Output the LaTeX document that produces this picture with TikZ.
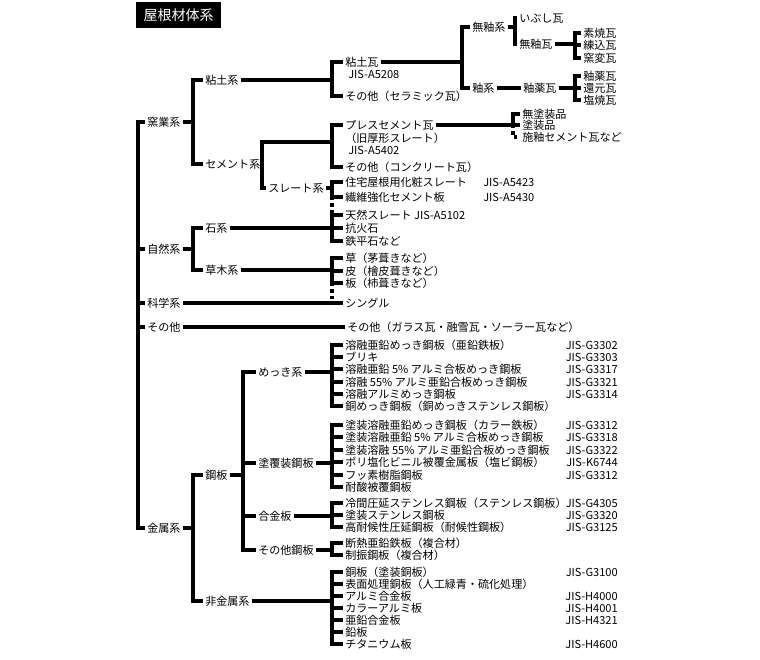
\documentclass[tikz,border=0pt]{standalone}
\usepackage{fontspec}
\setmainfont{Noto Sans CJK JP}
\usepackage{tikz}

\begin{document}
\begin{tikzpicture}[
  x=0.75pt, y=-0.75pt,
  every node/.style={
    font=\fontsize{8.3pt}{9pt}\selectfont,
    inner sep=1.5pt,
    text height=7.3pt,
    text depth=1pt
  },
  lbl/.style={anchor=west},
  jis/.style={anchor=east},
  heading/.style={fill=black, text=white, font=\fontsize{10.5pt}{12pt}\selectfont,
    minimum width=64pt, minimum height=19.5pt, inner sep=0pt, text height=9.2pt, text depth=1.3pt},
  br/.style={line width=2.6pt},
  dotbr/.style={line width=2.6pt, dash pattern=on 2.4pt off 2.4pt}
]
\useasboundingbox (0,0) rectangle (760,660);

% Title
\node[heading] (title) at (178.5,15.5) {屋根材体系};

% Spines of the brackets
\coordinate (sp0) at (138,0);
\coordinate (sp1) at (193,0);
\coordinate (sp2) at (243,0);
\coordinate (spc) at (262,0);
\coordinate (sp3) at (332,0);
\coordinate (spa) at (462,0);
\coordinate (spe) at (513,0);
\coordinate (spb) at (515,0);
\coordinate (spd) at (575,0);
\coordinate (cemj) at (332,142);

% Level 1
\node[lbl] (yogyo) at (145,122) {窯業系};
\node[lbl] (shizen) at (145,249) {自然系};
\node[lbl] (kagaku) at (145,303) {科学系};
\node[lbl] (sonota) at (145,327) {その他};
\node[lbl] (kinzoku) at (145,528) {金属系};

% Level 2
\node[lbl] (nendo) at (203,80) {粘土系};
\node[lbl] (cement) at (203,164) {セメント系};
\node[lbl] (slate) at (266,188) {スレート系};
\node[lbl] (ishi) at (203,228) {石系};
\node[lbl] (soumoku) at (203,270) {草木系};
\node[lbl] (kouhan) at (203,475) {鋼板};
\node[lbl] (hikinzoku) at (203,601) {非金属系};

% Level 3 for steel sheets
\node[lbl] (mekki) at (256,372) {めっき系};
\node[lbl] (tofuku) at (256,463) {塗覆装鋼板};
\node[lbl] (goukin) at (256,516) {合金板};
\node[lbl] (sonotakou) at (256,550) {その他鋼板};

% Clay tiles
\node[lbl] (nendogawara) at (343,62) {粘土瓦};
\node[lbl] (jisA5208) at (346,74) {JIS-A5208};
\node[lbl] (ceramic) at (343,96) {その他（セラミック瓦）};
\node[lbl] (muyuukei) at (470,27) {無釉系};
\node[lbl] (yuukei) at (470,88) {釉系};
\node[lbl] (ibushi) at (517,18) {いぶし瓦};
\node[lbl] (muyuugawara) at (517,44) {無釉瓦};
\node[lbl] (yuuyaku) at (521,88) {釉薬瓦};
\node[lbl] (suyaki) at (581,33) {素焼瓦};
\node[lbl] (nerikomi) at (581,45) {練込瓦};
\node[lbl] (youhen) at (581,58) {窯変瓦};
\node[lbl] (yuuyaku2) at (581,76) {釉薬瓦};
\node[lbl] (kangen) at (581,88) {還元瓦};
\node[lbl] (shioyaki) at (581,100) {塩焼瓦};

% Cement tiles
\node[lbl] (press) at (343,125) {プレスセメント瓦};
\node[lbl] (kyuatsu) at (343,138) {（旧厚形スレート）};
\node[lbl] (jisA5402) at (346,150) {JIS-A5402};
\node[lbl] (concrete) at (343,167) {その他（コンクリート瓦）};
\node[lbl] (mutosou) at (520,114) {無塗装品};
\node[lbl] (tosou) at (520,125) {塗装品};
\node[lbl] (seyuu) at (520,137) {施釉セメント瓦など};
\node[lbl] (jutaku) at (343,182) {住宅屋根用化粧スレート};
\node[lbl] (jisA5423) at (481,182) {JIS-A5423};
\node[lbl] (seni) at (343,197) {繊維強化セメント板};
\node[lbl] (jisA5430) at (481,197) {JIS-A5430};

% Natural materials
\node[lbl] (tennen) at (343,215) {天然スレート JIS-A5102};
\node[lbl] (kouka) at (343,228) {抗火石};
\node[lbl] (teppei) at (343,241) {鉄平石など};
\node[lbl] (kaya) at (343,258) {草（茅葺きなど）};
\node[lbl] (hiwada) at (343,271) {皮（檜皮葺きなど）};
\node[lbl] (kokera) at (343,283) {板（杮葺きなど）};
\node[lbl] (shingle) at (343,303) {シングル};
\node[lbl] (etc) at (345,327) {その他（ガラス瓦・融雪瓦・ソーラー瓦など）};

% Plated steel
\node[lbl] (m1) at (343,345) {溶融亜鉛めっき鋼板（亜鉛鉄板）};
\node[lbl] (m2) at (343,357) {ブリキ};
\node[lbl] (m3) at (343,369) {溶融亜鉛 5\% アルミ合板めっき鋼板};
\node[lbl] (m4) at (343,382) {溶融 55\% アルミ亜鉛合板めっき鋼板};
\node[lbl] (m5) at (343,394) {溶融アルミめっき鋼板};
\node[lbl] (m6) at (343,406) {銅めっき鋼板（銅めっきステンレス鋼板）};
\node[jis] (jm1) at (620,345) {JIS-G3302};
\node[jis] (jm2) at (620,357) {JIS-G3303};
\node[jis] (jm3) at (620,369) {JIS-G3317};
\node[jis] (jm4) at (620,382) {JIS-G3321};
\node[jis] (jm5) at (620,394) {JIS-G3314};

% Coated steel
\node[lbl] (t1) at (343,425) {塗装溶融亜鉛めっき鋼板（カラー鉄板）};
\node[lbl] (t2) at (343,437) {塗装溶融亜鉛 5\% アルミ合板めっき鋼板};
\node[lbl] (t3) at (343,450) {塗装溶融 55\% アルミ亜鉛合板めっき鋼板};
\node[lbl] (t4) at (343,462) {ポリ塩化ビニル被覆金属板（塩ビ鋼板）};
\node[lbl] (t5) at (343,475) {フッ素樹脂鋼板};
\node[lbl] (t6) at (343,487) {耐酸被覆鋼板};
\node[jis] (jt1) at (620,425) {JIS-G3312};
\node[jis] (jt2) at (620,437) {JIS-G3318};
\node[jis] (jt3) at (620,450) {JIS-G3322};
\node[jis] (jt4) at (620,462) {JIS-K6744};
\node[jis] (jt5) at (620,475) {JIS-G3312};

% Alloy and other steel
\node[lbl] (g1) at (343,503) {冷間圧延ステンレス鋼板（ステンレス鋼板）};
\node[lbl] (g2) at (343,515) {塗装ステンレス鋼板};
\node[lbl] (g3) at (343,527) {高耐候性圧延鋼板（耐候性鋼板）};
\node[jis] (jg1) at (620,503) {JIS-G4305};
\node[jis] (jg2) at (620,515) {JIS-G3320};
\node[jis] (jg3) at (620,527) {JIS-G3125};
\node[lbl] (o1) at (343,543) {断熱亜鉛鉄板（複合材）};
\node[lbl] (o2) at (343,555) {制振鋼板（複合材）};

% Non-ferrous metals
\node[lbl] (n1) at (343,572) {銅板（塗装銅板）};
\node[lbl] (n2) at (343,584) {表面処理銅板（人工緑青・硫化処理）};
\node[lbl] (n3) at (343,596) {アルミ合金板};
\node[lbl] (n4) at (343,608) {カラーアルミ板};
\node[lbl] (n5) at (343,620) {亜鉛合金板};
\node[lbl] (n6) at (343,632) {鉛板};
\node[lbl] (n7) at (343,644) {チタニウム板};
\node[jis] (jn1) at (620,572) {JIS-G3100};
\node[jis] (jn3) at (620,596) {JIS-H4000};
\node[jis] (jn4) at (620,608) {JIS-H4001};
\node[jis] (jn5) at (620,620) {JIS-H4321};
\node[jis] (jn7) at (620,644) {JIS-H4600};

% Root
\draw[br] (yogyo.west) -| (sp0 |- kinzoku.west) -- (kinzoku.west);
\draw[br] (shizen.west) -- (sp0 |- shizen.west);
\draw[br] (kagaku.west) -- (sp0 |- kagaku.west);
\draw[br] (sonota.west) -- (sp0 |- sonota.west);

% Ceramic branch
\draw[br] (yogyo.east) -| (sp1 |- nendo.west) -- (nendo.west);
\draw[br] (yogyo.east) -| (sp1 |- cement.west) -- (cement.west);
\draw[br] (nendo.east) -| (sp3 |- nendogawara.west) -- (nendogawara.west);
\draw[br] (nendo.east) -| (sp3 |- ceramic.west) -- (ceramic.west);
\draw[br] (nendogawara.east) -| (spa |- muyuukei.west) -- (muyuukei.west);
\draw[br] (nendogawara.east) -| (spa |- yuukei.west) -- (yuukei.west);
\draw[br] (muyuukei.east) -| (spb |- ibushi.west) -- (ibushi.west);
\draw[br] (muyuukei.east) -| (spb |- muyuugawara.west) -- (muyuugawara.west);
\draw[br] (muyuugawara.east) -| (spd |- suyaki.west) -- (suyaki.west);
\draw[br] (muyuugawara.east) -| (spd |- nerikomi.west) -- (nerikomi.west);
\draw[br] (muyuugawara.east) -| (spd |- youhen.west) -- (youhen.west);
\draw[br] (yuukei.east) -- (yuuyaku.west);
\draw[br] (yuuyaku.east) -| (spd |- yuuyaku2.west) -- (yuuyaku2.west);
\draw[br] (yuuyaku.east) -| (spd |- kangen.west) -- (kangen.west);
\draw[br] (yuuyaku.east) -| (spd |- shioyaki.west) -- (shioyaki.west);

% Cement branch
\draw[br] (cement.east) -| (spc |- cemj) -- (cemj);
\draw[br] (cement.east) -| (spc |- slate.west) -- (slate.west);
\draw[br] (cemj) |- (press.west);
\draw[br] (cemj) |- (concrete.west);
\draw[br] (press.east) -| (spe |- mutosou.west) -- (mutosou.west);
\draw[br] (press.east) -- (tosou.west);
\draw[dotbr] (spe |- tosou.west) |- (seyuu.west);
\draw[br] (slate.east) -| (sp3 |- jutaku.west) -- (jutaku.west);
\draw[br] (slate.east) -| (sp3 |- seni.west) -- (seni.west);
\draw[dotbr] (sp3 |- seni.west) -- (sp3 |- tennen.west);

% Natural branch
\draw[br] (shizen.east) -| (sp1 |- ishi.west) -- (ishi.west);
\draw[br] (shizen.east) -| (sp1 |- soumoku.west) -- (soumoku.west);
\draw[br] (ishi.east) -| (sp3 |- tennen.west) -- (tennen.west);
\draw[br] (ishi.east) -| (sp3 |- kouka.west) -- (kouka.west);
\draw[br] (ishi.east) -| (sp3 |- teppei.west) -- (teppei.west);
\draw[br] (soumoku.east) -| (sp3 |- kaya.west) -- (kaya.west);
\draw[br] (soumoku.east) -| (sp3 |- hiwada.west) -- (hiwada.west);
\draw[br] (soumoku.east) -| (sp3 |- kokera.west) -- (kokera.west);
\draw[dotbr] (sp3 |- kokera.west) -- (sp3 |- shingle.west);
\draw[br] (kagaku.east) -- (shingle.west);
\draw[br] (sonota.east) -- (etc.west);

% Metal branch
\draw[br] (kinzoku.east) -| (sp1 |- kouhan.west) -- (kouhan.west);
\draw[br] (kinzoku.east) -| (sp1 |- hikinzoku.west) -- (hikinzoku.west);
\draw[br] (kouhan.east) -| (sp2 |- mekki.west) -- (mekki.west);
\draw[br] (kouhan.east) -| (sp2 |- tofuku.west) -- (tofuku.west);
\draw[br] (kouhan.east) -| (sp2 |- goukin.west) -- (goukin.west);
\draw[br] (kouhan.east) -| (sp2 |- sonotakou.west) -- (sonotakou.west);

\draw[br] (mekki.east) -| (sp3 |- m1.west) -- (m1.west);
\draw[br] (mekki.east) -| (sp3 |- m2.west) -- (m2.west);
\draw[br] (mekki.east) -| (sp3 |- m3.west) -- (m3.west);
\draw[br] (mekki.east) -| (sp3 |- m4.west) -- (m4.west);
\draw[br] (mekki.east) -| (sp3 |- m5.west) -- (m5.west);
\draw[br] (mekki.east) -| (sp3 |- m6.west) -- (m6.west);

\draw[br] (tofuku.east) -| (sp3 |- t1.west) -- (t1.west);
\draw[br] (tofuku.east) -| (sp3 |- t2.west) -- (t2.west);
\draw[br] (tofuku.east) -| (sp3 |- t3.west) -- (t3.west);
\draw[br] (tofuku.east) -| (sp3 |- t4.west) -- (t4.west);
\draw[br] (tofuku.east) -| (sp3 |- t5.west) -- (t5.west);
\draw[br] (tofuku.east) -| (sp3 |- t6.west) -- (t6.west);

\draw[br] (goukin.east) -| (sp3 |- g1.west) -- (g1.west);
\draw[br] (goukin.east) -| (sp3 |- g2.west) -- (g2.west);
\draw[br] (goukin.east) -| (sp3 |- g3.west) -- (g3.west);
\draw[br] (sonotakou.east) -| (sp3 |- o1.west) -- (o1.west);
\draw[br] (sonotakou.east) -| (sp3 |- o2.west) -- (o2.west);

\draw[br] (hikinzoku.east) -| (sp3 |- n1.west) -- (n1.west);
\draw[br] (hikinzoku.east) -| (sp3 |- n2.west) -- (n2.west);
\draw[br] (hikinzoku.east) -| (sp3 |- n3.west) -- (n3.west);
\draw[br] (hikinzoku.east) -| (sp3 |- n4.west) -- (n4.west);
\draw[br] (hikinzoku.east) -| (sp3 |- n5.west) -- (n5.west);
\draw[br] (hikinzoku.east) -| (sp3 |- n6.west) -- (n6.west);
\draw[br] (hikinzoku.east) -| (sp3 |- n7.west) -- (n7.west);

\end{tikzpicture}
\end{document}
